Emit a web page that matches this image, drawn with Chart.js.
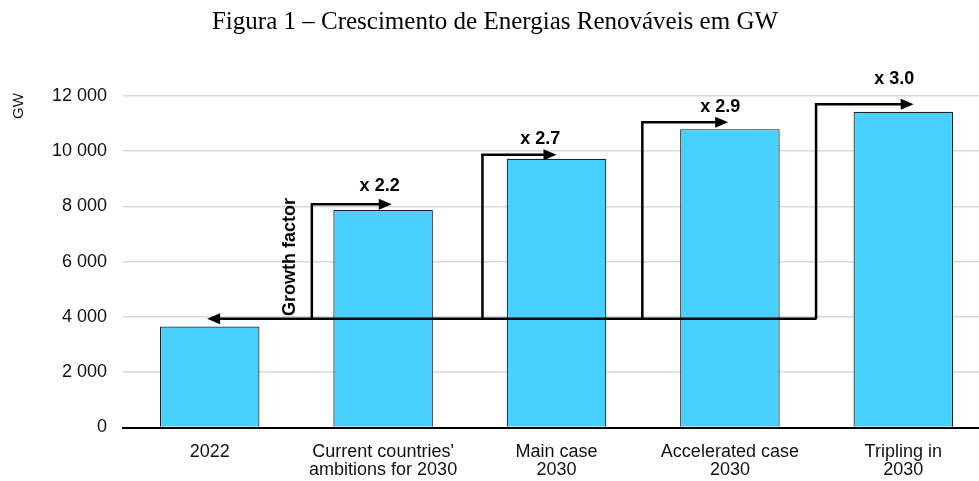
<!DOCTYPE html>
<html>
<head>
<meta charset="utf-8">
<script src="https://cdn.jsdelivr.net/npm/chart.js@4/dist/chart.umd.min.js"></script>
<style>
  html, body { margin: 0; padding: 0; background: #fff; overflow: hidden; }
  #wrap { width: 990px; height: 481px; }
</style>
</head>
<body>
<div id="wrap"><canvas id="chart" width="990" height="481"></canvas></div>
<script>
// categories and values (GW)
const categories = ["2022", ["Current countries'", "ambitions for 2030"], ["Main case", "2030"], ["Accelerated case", "2030"], ["Tripling in", "2030"]];
const capacity = [3650, 7870, 9720, 10790, 11420];
const yTicks = [0, 2000, 4000, 6000, 8000, 10000, 12000];

// growth factor arrows (x in category index units, y in GW)
const growthLabels = ["x 2.2", "x 2.7", "x 2.9", "x 3.0"];
const baseLevel = 3930;
const baseArrowFrom = 3.5;
const baseArrowTo = -0.015;
const stepX = [0.589, 1.573, 2.495, 3.497];
const stepTop = [8070, 9860, 11040, 11690];
const stepEnd = [1.05, 2.0, 2.99, 4.06];
const labelX = [0.98, 1.906, 2.944, 3.948];
const labelY = [8730, 10430, 11590, 12620];
const sideLabel = "Growth factor";
const sideLabelPos = [0.464, 6170];

function fmt(v) {
    return String(v).replace(/\B(?=(\d{3})+(?!\d))/g, ' ');
}

function arrowHead(ctx, x, y, dir) {
    // dir: 1 = right, -1 = left
    ctx.beginPath();
    ctx.moveTo(x, y);
    ctx.lineTo(x - dir * 13, y - 5.5);
    ctx.lineTo(x - dir * 13, y + 5.5);
    ctx.closePath();
    ctx.fill();
}

const growthPlugin = {
    id: 'growth',
    afterDatasetsDraw(chart) {
        const ctx = chart.ctx;
        const xs = chart.scales.x, ys = chart.scales.y;
        ctx.save();
        ctx.strokeStyle = '#000';
        ctx.fillStyle = '#000';
        ctx.lineWidth = 2.5;
        ctx.lineJoin = 'miter';

        // base line to the left
        const by = ys.getPixelForValue(baseLevel);
        const bx0 = xs.getPixelForValue(baseArrowFrom);
        const bx1 = xs.getPixelForValue(baseArrowTo);
        ctx.beginPath();
        ctx.moveTo(bx0, by);
        ctx.lineTo(bx1 + 10, by);
        ctx.stroke();
        arrowHead(ctx, bx1, by, -1);

        // steps
        for (let i = 0; i < stepX.length; i++) {
            const sx = xs.getPixelForValue(stepX[i]);
            const ty = ys.getPixelForValue(stepTop[i]);
            const ex = xs.getPixelForValue(stepEnd[i]);
            ctx.beginPath();
            ctx.moveTo(sx, by);
            ctx.lineTo(sx, ty);
            ctx.lineTo(ex - 10, ty);
            ctx.stroke();
            arrowHead(ctx, ex, ty, 1);

            ctx.font = 'bold 18px "Liberation Sans", Arial, sans-serif';
            ctx.textAlign = 'center';
            ctx.textBaseline = 'middle';
            ctx.fillText(growthLabels[i], xs.getPixelForValue(labelX[i]), ys.getPixelForValue(labelY[i]));
        }

        // rotated side label
        ctx.translate(xs.getPixelForValue(sideLabelPos[0]), ys.getPixelForValue(sideLabelPos[1]));
        ctx.rotate(-Math.PI / 2);
        ctx.font = 'bold 18px "Liberation Sans", Arial, sans-serif';
        ctx.textAlign = 'center';
        ctx.textBaseline = 'middle';
        ctx.fillText(sideLabel, 0, 0);
        ctx.restore();

        // y unit
        ctx.save();
        ctx.translate(19, 106);
        ctx.rotate(-Math.PI / 2);
        ctx.font = '15px "Liberation Sans", Arial, sans-serif';
        ctx.fillStyle = '#111';
        ctx.textAlign = 'center';
        ctx.textBaseline = 'middle';
        ctx.fillText('GW', 0, 0);
        ctx.restore();
    }
};

new Chart(document.getElementById("chart").getContext("2d"), {
    type: 'bar',
    data: {
        labels: categories,
        datasets: [{
            data: capacity,
            backgroundColor: '#48D1FF',
            borderColor: '#1e2226',
            borderWidth: 1.2,
            barPercentage: 0.574,
            categoryPercentage: 1
        }]
    },
    options: {
        responsive: false,
        animation: false,
        devicePixelRatio: 1,
        layout: { padding: { left: 0, right: 0, top: 0, bottom: 2 } },
        plugins: {
            legend: { display: false },
            tooltip: { enabled: false },
            title: {
                display: true,
                text: 'Figura 1 – Crescimento de Energias Renováveis em GW',
                color: '#000',
                font: { family: '"Liberation Serif", "Times New Roman", serif', size: 25, weight: 'normal' },
                padding: { top: 7, bottom: 58.7 }
            }
        },
        scales: {
            x: {
                afterFit(scale) { scale.height = 51.5; },
                grid: { display: false, drawTicks: false },
                border: { display: true, color: '#000', width: 2 },
                ticks: {
                    color: '#111',
                    padding: 15.5,
                    maxRotation: 0,
                    autoSkip: false,
                    font: { family: '"Liberation Sans", Arial, sans-serif', size: 18, lineHeight: 1.0 }
                }
            },
            y: {
                min: 0,
                max: 12000,
                afterFit(scale) { scale.width = 123; },
                afterBuildTicks(scale) { scale.ticks = yTicks.map(v => ({ value: v })); },
                grid: {
                    drawTicks: false,
                    color: ctx => ctx.tick && ctx.tick.value === 0 ? 'rgba(0,0,0,0)' : '#d9d9d9',
                    lineWidth: 1.5
                },
                border: { display: false },
                ticks: {
                    color: '#111',
                    padding: 16,
                    callback: v => fmt(v),
                    font: { family: '"Liberation Sans", Arial, sans-serif', size: 18 }
                }
            }
        }
    },
    plugins: [growthPlugin]
});
</script>
</body>
</html>
